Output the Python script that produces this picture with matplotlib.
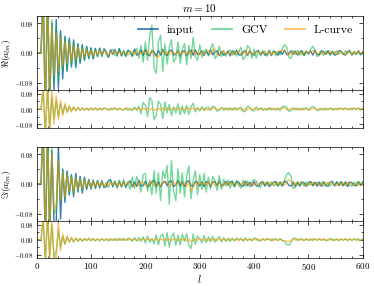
import numpy as np
import matplotlib
matplotlib.use("Agg")
import matplotlib.pyplot as plt
from matplotlib.ticker import MultipleLocator, FixedLocator, FuncFormatter

plt.rcParams.update({
    "font.family": "serif",
    "font.serif": ["cmr10", "DejaVu Serif"],
    "mathtext.fontset": "cm",
    "axes.formatter.use_mathtext": True,
})

# multipole grid (every 4th l)
ell = np.arange(0, 601, 4)

# values in units of 1e-3
re_input = [
    0, 0, 0, 160, -180, 170, -150, 80, -100, 90,
    -95, 60, -70, 45, -50, 40, -38, 35, -40, 25,
    -28, 22, -20, 18, -15, 14, -16, 12, -10, 13,
    -9, 11, 3, -12, 8, -4, 9, -7, 12, -8,
    5, -9, 7, 2, -8, 10, -6, -2, 8, -7,
    9, -5, -8, 6, 3, -9, 7, -6, 10, -3,
    -7, 5, 8, -6, -3, 7, -9, 4, 6, -8,
    3, 7, -6, 8, -4, -2, 6, -7, 5, -6,
    8, -5, 2, 6, -7, 4, -6, -3, 5, -8,
    6, -4, 7, -5, -6, 3, 6, -7, 5, -2,
    -6, 4, 7, -5, 3, -6, -4, 6, -7, 5,
    2, -6, 5, -4, 7, -5, -2, 6, -4, 5,
    -6, 3, 6, -7, 4, -2, 5, -6, 7, -4,
    -5, 6, 2, -4, 6, -5, 3, -6, -4, 6,
    5, -3, -6, 4, 6, -5, 2, -4, 6, -5,
    3]
re_gcv = [
    0, 0, 0, 170, -160, 180, -130, 90, -80, 70,
    -75, 55, -50, 40, -45, 35, -30, 30, -32, 22,
    -25, 20, -18, 15, -14, 12, -14, 10, -9, 11,
    -8, 10, -4, -11, 7, 9, -6, -9, 10, -5,
    6, -9, 8, 3, -10, 7, 12, -14, 20, -25,
    30, -20, 45, 75, -40, -55, 30, 48, -50, 25,
    -30, 15, 35, -25, -15, 30, -28, 10, 25, -32,
    20, -15, 42, -10, -20, 22, -12, 5, 10, -8,
    12, 25, -15, -8, 18, -10, 6, -9, 4, 8,
    -6, 7, -9, 5, 15, -18, -10, 20, 12, -15,
    10, -14, 5, -8, 6, 3, -9, 7, -5, 6,
    -8, 4, -6, 12, 22, 15, -12, -15, 6, -4,
    7, -6, 3, -7, 6, -4, 10, 18, 8, -10,
    -6, 4, -7, 5, 2, -6, 5, -3, 6, -4,
    3, -5, 6, -2, 4, -6, 5, -4, 3, -5,
    4]
re_lcurve = [
    0, 0, 0, 140, -150, 160, -120, 70, -60, 55,
    -50, 40, -35, 30, -28, 25, -22, 20, -18, 16,
    -15, 12, -10, 9, -8, 7, -8, 6, -5, 7,
    -5, 6, 2, -7, 4, -3, 6, -5, 3, -4,
    5, -2, -6, 4, 3, -5, 6, -4, -2, 5,
    -4, 6, -3, 8, -6, -10, -12, 4, 6, -5,
    3, -6, 5, 2, -5, 6, -4, -3, 5, -4,
    6, -3, 8, -5, 2, -6, 4, -5, 3, 6,
    -4, 8, 10, -4, -6, 3, 5, -4, 2, -3,
    4, -5, 3, 5, -4, -3, 6, -6, 8, -2,
    -4, 3, 5, -4, -2, 5, -3, 4, -5, 3,
    -3, 4, 5, 6, 8, -3, -6, 3, -4, 5,
    -3, 4, -5, 2, 4, -4, 3, 6, 5, -4,
    2, -4, 5, -3, -2, 5, -3, 4, -5, 3,
    4, -2, -5, 4, 3, -5, 4, -3, 5, -2,
    3]
re_res_gcv = [
    0, 0, 0, 90, -120, 110, -100, 60, -50, 45,
    -40, 30, -25, 20, -15, 12, -10, 9, -8, 7,
    -6, 5, -7, 4, -5, 6, -4, 5, -6, 4,
    -5, 4, 2, -6, 5, -3, 6, -5, 4, -2,
    -5, 6, -8, 3, -9, 10, -6, 15, -25, 35,
    20, -40, 60, 45, -55, -35, 40, 25, -50, 38,
    -20, 25, -35, 10, -20, 28, -30, 15, -25, 20,
    -28, 12, 30, -15, 8, -10, 12, -9, 5, 10,
    -8, 15, 10, -12, -5, 8, -7, 5, -6, 7,
    -5, 8, -6, 3, 10, -14, -12, 15, 10, -8,
    -10, 12, -4, 6, -7, 2, -6, 7, -5, 4,
    -6, 5, -8, 12, 15, 10, -12, -8, 6, -5,
    4, -6, 5, -4, 6, -5, 7, 14, 6, -8,
    -5, 3, -6, 5, -2, 4, -5, 3, -4, 2,
    4, -3, 5, -2, 3, -5, 4, -3, 5, -4,
    3]
re_res_lcurve = [
    0, 0, 0, 120, -130, 110, -120, 100, -80, 70,
    -55, 45, -35, 30, -20, 18, -15, 12, -10, 9,
    -8, 7, -6, 5, -7, 4, -5, 6, -4, 5,
    -4, 5, 2, -4, -5, 3, 4, -5, 3, -2,
    -4, 3, 5, -4, -3, 5, -2, 3, -5, 4,
    -3, 5, -6, 4, -7, -5, 4, -6, 5, -4,
    5, -4, -2, 5, 4, -3, 5, -4, -3, 5,
    4, -3, 5, -2, 3, -5, 4, 3, -5, -4,
    3, 5, 6, -4, -3, 4, 5, -3, 4, -5,
    3, -4, 5, 3, -4, -5, 3, -4, 5, -3,
    4, -3, -5, 4, 3, -5, 4, -3, 5, -4,
    3, -4, 4, 5, 6, -4, -3, 4, -3, 5,
    -4, 3, -5, 4, 3, -5, -4, 3, 5, -4,
    3, -4, 5, -3, -4, 5, 3, -4, 5, -3,
    4, -3, 5, -4, -3, 5, 4, -3, 5, -4,
    3]

im_input = [
    0, 0, 0, 170, -190, 160, -140, 90, -110, -100,
    105, -95, 40, -50, 35, -30, 25, -35, 28, -22,
    20, -25, 18, -15, 12, -14, 10, -12, 9, -11,
    8, -10, -7, 9, 11, -8, 6, -10, 7, -8,
    6, -9, 3, 8, -8, 5, -7, 9, -6, -5,
    7, -8, -4, 6, 9, -7, 5, -8, 2, 7,
    -5, 6, 8, -7, -3, 9, -6, 5, -7, 6,
    8, -5, -6, 7, 4, -6, 5, -8, 6, 3,
    -7, 5, 6, -4, 7, -6, -3, 7, -4, 6,
    5, -7, 6, 4, -5, -6, 7, -5, 4, -6,
    6, -5, -7, 4, 5, -6, 4, -7, -2, 5,
    6, -5, 4, -6, 7, 5, -4, -6, 5, -7,
    4, -6, 5, 3, -7, 4, 6, -5, 4, -6,
    5, -7, 4, -5, -6, 4, 7, -6, 5, -4,
    6, -5, 4, -7, 5, 3, -4, -5, 6, -4,
    5]
im_gcv = [
    0, 0, 0, 180, -170, 150, -160, 100, -80, -70,
    60, -50, 35, -40, 30, -25, 22, -28, 20, -18,
    16, -20, 14, -12, 10, -12, 9, -10, 8, -9,
    7, -9, 3, -10, 9, -4, 8, -9, 10, -8,
    12, -10, 4, -15, 18, -12, 20, 5, -22, 25,
    28, -20, 10, -30, 35, -25, 30, -45, 35, 15,
    50, -55, 62, -20, -45, 40, -25, 30, -35, 20,
    48, -40, 10, 35, -30, 25, -15, 28, -22, 18,
    -15, 20, 8, -18, 22, -15, 12, -6, 10, -12,
    9, -8, 10, -4, -12, 10, -7, 8, -9, 6,
    12, 8, -6, -10, 7, -5, 6, -3, 5, -6,
    5, -7, 6, -5, 10, 25, 30, 20, -12, -10,
    6, -5, 3, -6, 5, -4, 6, -5, 4, 2,
    -5, 4, 6, -5, 4, -6, 2, -4, 6, -5,
    4, -5, 6, 2, -5, -6, 4, -5, 6, -4,
    5]
im_lcurve = [
    0, 0, 0, 150, -160, 140, -130, 80, -70, -60,
    65, -45, 30, -35, 25, -20, 18, -22, 16, -14,
    12, -14, 10, -8, 9, -10, 7, -8, 6, -7,
    5, -6, 2, -7, 5, -3, 4, -7, 5, -6,
    4, -5, 6, 2, -5, -6, 4, -5, 6, 3,
    -4, -6, 5, 4, -6, 5, -4, -6, 5, 3,
    6, -5, -2, 6, -5, 4, 6, -5, 4, -7,
    5, -18, -10, 6, -5, 4, -2, 5, -4, 6,
    -4, 5, -6, 2, 5, -6, -4, 5, -3, 4,
    -5, 4, 3, -5, -4, 6, -3, 4, -5, 3,
    -4, 5, -3, -4, 5, 3, -4, 5, -3, 4,
    -5, 4, -3, 5, -4, 8, 10, 6, -4, 3,
    -4, 5, 3, -4, -5, 3, -4, 5, -3, 4,
    -4, 3, -5, 4, -3, 5, 4, -3, -5, 4,
    -3, 4, -5, 3, 4, -5, -3, 4, -5, 3,
    -4]
im_res_gcv = [
    0, 0, 0, 100, -110, 120, -90, 80, -100, -60,
    50, -40, 20, -25, 15, -12, 10, -14, 9, -8,
    7, -10, 6, -5, 8, -6, 5, -7, 4, -6,
    5, -6, 2, -7, 5, -4, 6, -5, 7, -4,
    6, -5, 8, 3, -9, 10, -8, 12, -10, 15,
    -18, 20, -15, 5, -22, 25, -28, 20, 30, -35,
    38, -40, 15, 35, -30, 25, -28, 30, -10, 32,
    -30, -48, 30, -25, 20, 5, -18, 22, -16, 15,
    -12, 18, -14, 6, 16, -12, 10, -9, 8, -10,
    7, -6, 8, -3, 7, -9, 8, -5, 6, -7,
    9, 6, -5, -7, 5, -4, 5, 2, -6, 4,
    4, -6, 5, -4, -8, -25, -30, -15, 8, 6,
    -5, 4, 2, -6, 5, -4, 3, -5, 4, -3,
    5, -4, 3, -5, -4, 3, 5, -4, 3, -5,
    4, -3, 4, -5, 3, -4, 5, -3, 4, -5,
    3]
im_res_lcurve = [
    0, 0, 0, 130, -120, 140, -110, 100, -90, -100,
    90, -60, 30, -25, 20, -15, 12, -10, 8, -9,
    6, -7, 5, -4, 6, -5, 4, -5, 3, -4,
    4, -3, 5, 2, -4, 3, -5, 4, -3, 5,
    -4, 3, -4, 5, -3, 4, -5, -3, 4, 5,
    -3, 4, -3, 5, -4, 3, -5, 4, -3, 5,
    -4, 3, -5, 4, 3, -5, 4, -3, 5, -6,
    3, -10, -6, 4, -3, 5, 2, -4, 3, -5,
    4, -3, 4, -5, 3, -4, 5, -3, -4, 5,
    3, -4, 3, -5, 4, -3, 5, -4, 3, -5,
    4, -3, 4, -5, 3, -4, 5, -3, 4, -5,
    3, -4, 3, -5, -6, -8, -10, -5, 4, -3,
    4, -5, 3, -4, 5, -3, -4, 5, 3, -4,
    5, -3, 4, -5, 3, 4, -5, -3, 4, -5,
    3, -4, 5, -3, 4, -5, 3, 4, -5, -3,
    4]

unit = 1e-3
labels = ["input", "GCV", "L-curve"]
colors = ["#0C5DA5", "#00B945", "#FF9500"]
alphas = [0.8, 0.55, 0.6]
lw = 1.0

fig = plt.figure(figsize=(3.74, 2.86), dpi=100)
L, W = 0.098, 0.872
ax_re = fig.add_axes([L, 0.685, W, 0.260])
ax_re_r = fig.add_axes([L, 0.5524, W, 0.1329])
ax_im = fig.add_axes([L, 0.2273, W, 0.2598])
ax_im_r = fig.add_axes([L, 0.0969, W, 0.1304])


def yfmt(v, pos):
    if abs(v) < 1e-9:
        return "$0.00$"
    return f"${v:.2f}$"


def style(ax, show_x):
    ax.set_xlim(0, 600)
    ax.set_ylim(-0.1, 0.1)
    ax.yaxis.set_major_locator(FixedLocator([-0.08, 0.0, 0.08]))
    ax.yaxis.set_minor_locator(MultipleLocator(0.04))
    ax.xaxis.set_major_locator(MultipleLocator(100))
    ax.xaxis.set_minor_locator(MultipleLocator(20))
    ax.yaxis.set_major_formatter(FuncFormatter(yfmt))
    ax.tick_params(which="both", direction="in", top=True, right=True, width=0.5)
    ax.tick_params(which="major", length=3)
    ax.tick_params(which="minor", length=1.5)
    ax.tick_params(axis="y", labelsize=5, pad=2)
    ax.tick_params(axis="x", labelsize=6.5, pad=2)
    if not show_x:
        ax.tick_params(axis="x", labelbottom=False)
    for s in ax.spines.values():
        s.set_linewidth(0.5)


for ax, series in [(ax_re, [re_input, re_gcv, re_lcurve]),
                   (ax_im, [im_input, im_gcv, im_lcurve])]:
    for vals, lab, c, a in zip(series, labels, colors, alphas):
        ax.plot(ell, np.array(vals) * unit, color=c, alpha=a, lw=lw, label=lab)

for ax, series in [(ax_re_r, [re_res_gcv, re_res_lcurve]),
                   (ax_im_r, [im_res_gcv, im_res_lcurve])]:
    for vals, c, a in zip(series, colors[1:], alphas[1:]):
        ax.plot(ell, np.array(vals) * unit, color=c, alpha=a, lw=lw)

style(ax_re, False)
style(ax_re_r, False)
style(ax_im, False)
style(ax_im_r, True)

ax_re.set_title("$m=10$", fontsize=8, pad=3)
ax_re.set_ylabel(r"$\Re(a_{lm})$", fontsize=7, labelpad=2)
ax_im.set_ylabel(r"$\Im(a_{lm})$", fontsize=7, labelpad=2)
ax_im_r.set_xlabel("$l$", fontsize=7.5, labelpad=1)
ax_re.yaxis.set_label_coords(-0.072, 0.5)
ax_im.yaxis.set_label_coords(-0.072, 0.5)

leg = ax_re.legend(loc="upper right", ncol=3, frameon=False, fontsize=8.5,
                   handlelength=1.7, columnspacing=1.5, handletextpad=0.75,
                   borderaxespad=0.4)
for h in leg.get_lines():
    h.set_linewidth(1.3)

fig.savefig("out.png", dpi=100)
